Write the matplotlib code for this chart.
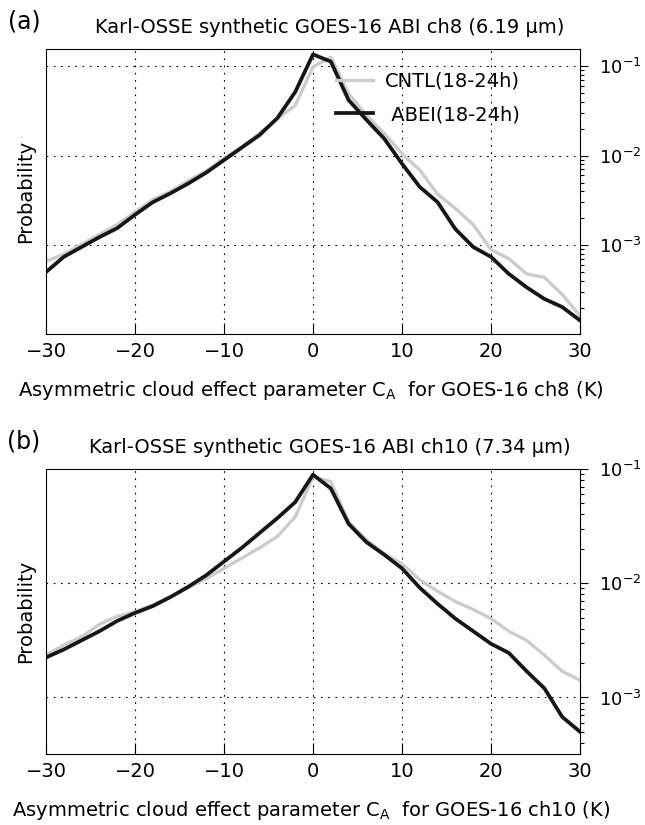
import numpy as np
import matplotlib
matplotlib.use("Agg")
import matplotlib.pyplot as plt
from matplotlib import font_manager
from matplotlib.ticker import LogLocator, NullFormatter, FixedLocator

# pick a narrow sans face if the system has one
FONT = "DejaVu Sans"
for cand in ["DejaVu Sans Condensed", "Liberation Sans Narrow"]:
    try:
        font_manager.findfont(cand, fallback_to_default=False)
        FONT = cand
        break
    except ValueError:
        pass

plt.rcParams["font.family"] = FONT
plt.rcParams["mathtext.fontset"] = "custom"
plt.rcParams["mathtext.rm"] = FONT
plt.rcParams["mathtext.it"] = FONT + ":italic"

# asymmetric cloud effect bins (K)
ca_bins = np.arange(-30, 31, 2)

# log10 probability, ch8 (6.19 um)
ch8_cntl = [-3.18, -3.10, -2.99, -2.88, -2.77, -2.63, -2.49, -2.40, -2.28, -2.17,
            -2.03, -1.90, -1.75, -1.59, -1.44, -1.01, -0.90, -1.31, -1.55, -1.75,
            -1.98, -2.16, -2.43, -2.59, -2.77, -3.05, -3.15, -3.32, -3.36, -3.55, -3.79]
ch8_abei = [-3.30, -3.13, -3.02, -2.91, -2.81, -2.66, -2.52, -2.42, -2.31, -2.19,
            -2.05, -1.91, -1.77, -1.58, -1.29, -0.87, -0.95, -1.38, -1.60, -1.81,
            -2.09, -2.35, -2.52, -2.82, -3.02, -3.13, -3.32, -3.47, -3.60, -3.69, -3.84]

# log10 probability, ch10 (7.34 um)
ch10_cntl = [-2.63, -2.54, -2.47, -2.36, -2.29, -2.25, -2.19, -2.12, -2.04, -1.96,
             -1.87, -1.78, -1.69, -1.59, -1.42, -1.07, -1.11, -1.46, -1.62, -1.74,
             -1.83, -1.97, -2.07, -2.16, -2.23, -2.31, -2.42, -2.50, -2.63, -2.77, -2.85]
ch10_abei = [-2.65, -2.58, -2.50, -2.42, -2.33, -2.26, -2.20, -2.12, -2.03, -1.93,
             -1.81, -1.69, -1.56, -1.43, -1.29, -1.05, -1.17, -1.48, -1.64, -1.75,
             -1.87, -2.04, -2.18, -2.31, -2.42, -2.53, -2.61, -2.77, -2.92, -3.17, -3.30]

panels = [
    ("(a)", "Karl-OSSE synthetic GOES-16 ABI ch8 (6.19 µm)", "ch8",
     ch8_cntl, ch8_abei, (1.02e-4, 0.155)),
    ("(b)", "Karl-OSSE synthetic GOES-16 ABI ch10 (7.34 µm)", "ch10",
     ch10_cntl, ch10_abei, (3.2e-4, 0.1)),
]

W, H = 645, 825
fig = plt.figure(figsize=(W / 100, H / 100), dpi=100)

FS = 14
grid_kw = dict(color="k", linestyle=(0, (1.5, 5)), linewidth=0.8)
axes_top = [49, 469]

for (tag, title, ch, cntl, abei, ylim), top in zip(panels, axes_top):
    ax = fig.add_axes([46 / W, 1 - (top + 285) / H, 534 / W, 285 / H])
    ax.plot(ca_bins, 10 ** np.array(cntl), color="#cccccc", lw=2.4,
            label="CNTL(18-24h)")
    ax.plot(ca_bins, 10 ** np.array(abei), color="#161616", lw=2.7,
            label=" ABEI(18-24h)")
    ax.set_yscale("log")
    ax.set_xlim(-30, 30)
    ax.set_ylim(*ylim)

    ax.set_xticks(np.arange(-30, 31, 10))
    ax.set_xticklabels(["\u221230", "\u221220", "\u221210", "0", "10", "20", "30"])
    ax.yaxis.set_major_locator(FixedLocator([1e-3, 1e-2, 1e-1]))
    ax.yaxis.set_minor_locator(LogLocator(base=10, subs=np.arange(2, 10)))
    ax.yaxis.set_minor_formatter(NullFormatter())
    ax.yaxis.tick_right()
    ax.tick_params(axis="x", direction="in", length=8, width=0.8, labelsize=FS,
                   pad=6, top=False)
    ax.tick_params(axis="y", which="major", direction="out", length=6, width=0.8,
                   labelsize=13, pad=8, left=False)
    ax.tick_params(axis="y", which="minor", direction="out", length=3, width=0.8,
                   left=False)
    for s in ax.spines.values():
        s.set_linewidth(0.8)

    for gx in [-20, -10, 0, 10, 20]:
        ax.axvline(gx, zorder=0, **grid_kw)
    for gy in [1e-3, 1e-2, 1e-1]:
        if ylim[0] < gy < ylim[1]:
            ax.axhline(gy, zorder=0, **grid_kw)

    ax.text(0.532, 1.074, title, transform=ax.transAxes, ha="center",
            va="center", fontsize=FS)
    ax.text(-0.039, 0.5, "Probability", transform=ax.transAxes, rotation=90,
            ha="center", va="center", fontsize=FS)
    ax.text(0.496, -0.2, "Asymmetric cloud effect parameter C$_\\mathrm{A}$  for GOES-16 "
            + ch + " (K)", transform=ax.transAxes, ha="center", va="center",
            fontsize=FS)
    fig.text(24 / W, 1 - (top - 28) / H, tag, ha="center", va="center",
             fontsize=17)

    if tag == "(a)":
        ax.legend(loc="upper left", bbox_to_anchor=(0.543, 0.921), frameon=False,
                  fontsize=FS, handlelength=1.9, handletextpad=0.6,
                  labelspacing=0.75, borderpad=0, borderaxespad=0)

fig.savefig("out.png", dpi=100)
